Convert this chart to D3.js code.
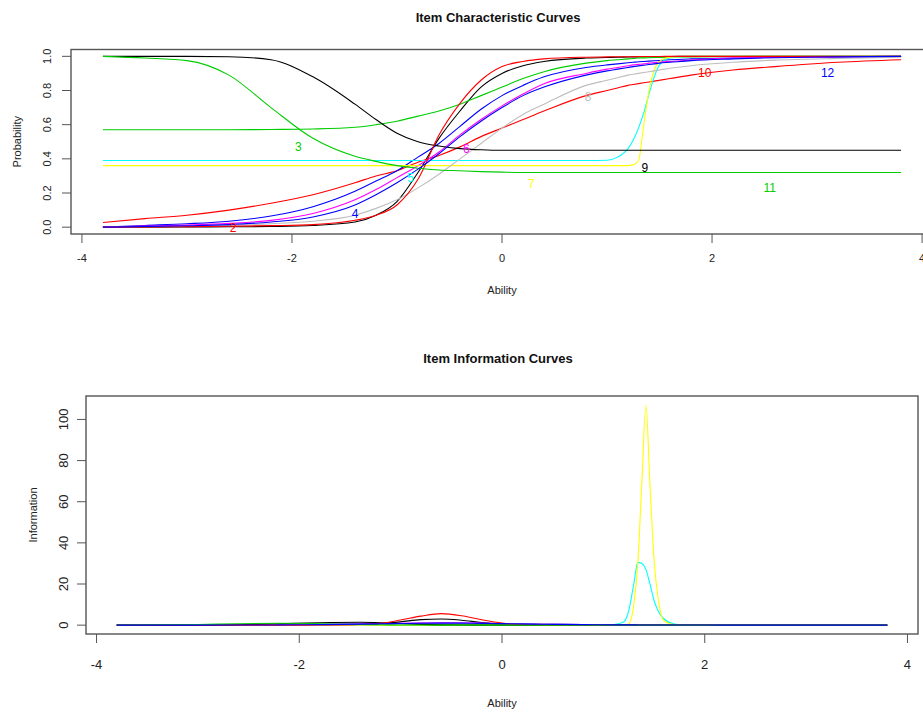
<!DOCTYPE html>
<html>
<head>
<meta charset="utf-8">
<script src="https://cdn.jsdelivr.net/npm/d3@7"></script>
<style>
  html, body { margin: 0; padding: 0; background: #fff; }
  svg { display: block; font-family: "Liberation Sans", Arial, sans-serif; }
</style>
</head>
<body>
<svg id="chart" width="923" height="715"></svg>
<script>
// ---------------- DATA ----------------
const itemNames = ["1","2","3","4","5","6","7","8","9","10","11","12"];
const itemColors = ["#000000","#FF0000","#00CD00","#0000FF","#00FFFF","#FF00FF","#FFFF00","#BEBEBE","#000000","#FF0000","#00CD00","#0000FF"];

const xTicks = [-4, -2, 0, 2, 4];
const probTicks = [0, 0.2, 0.4, 0.6, 0.8, 1.0];
const probTickLabels = ["0.0", "0.2", "0.4", "0.6", "0.8", "1.0"];
const infoTicks = [0, 20, 40, 60, 80, 100];
const infoTickLabels = ["0", "20", "40", "60", "80", "100"];

// ability grid for the item characteristic curves
const iccAbility = [-3.8,-3.4,-3.0,-2.6,-2.2,-1.8,-1.4,-1.2,-1.0,-0.8,-0.6,-0.4,-0.2,0.0,0.2,0.4,0.8,1.0,1.1,1.2,1.25,1.3,1.35,1.4,1.45,1.5,1.6,1.8,2.2,2.6,3.2,3.8];
// probability for each item
const iccProb = [
  /*1*/  [0.0,0.0,0.001,0.002,0.004,0.01,0.03,0.07,0.15,0.32,0.52,0.68,0.82,0.90,0.945,0.97,0.99,0.993,0.995,0.996,0.997,0.997,0.998,0.998,0.998,0.999,0.999,1,1,1,1,1],
  /*2*/  [0.027,0.05,0.07,0.10,0.14,0.19,0.26,0.30,0.33,0.38,0.42,0.47,0.53,0.58,0.63,0.68,0.77,0.80,0.815,0.83,0.835,0.84,0.845,0.85,0.855,0.86,0.87,0.89,0.92,0.94,0.965,0.98],
  /*3*/  [0.57,0.57,0.57,0.57,0.572,0.575,0.585,0.60,0.62,0.65,0.68,0.72,0.77,0.82,0.87,0.91,0.96,0.975,0.98,0.985,0.987,0.99,0.991,0.992,0.993,0.994,0.995,0.997,0.999,1,1,1],
  /*4*/  [0.0,0.01,0.02,0.035,0.065,0.12,0.21,0.27,0.33,0.41,0.49,0.59,0.69,0.77,0.83,0.88,0.935,0.95,0.956,0.962,0.965,0.968,0.97,0.972,0.974,0.976,0.98,0.985,0.99,0.994,0.997,1.0],
  /*5*/  [0.39,0.39,0.39,0.39,0.39,0.39,0.39,0.39,0.39,0.39,0.39,0.39,0.39,0.39,0.39,0.39,0.39,0.392,0.41,0.46,0.51,0.58,0.67,0.78,0.88,0.95,0.99,1,1,1,1,1],
  /*6*/  [0.0,0.006,0.012,0.022,0.04,0.08,0.16,0.22,0.29,0.36,0.44,0.54,0.63,0.71,0.78,0.84,0.90,0.925,0.935,0.945,0.95,0.953,0.956,0.96,0.963,0.966,0.97,0.978,0.99,0.994,0.997,1.0],
  /*7*/  [0.36,0.36,0.36,0.36,0.36,0.36,0.36,0.36,0.36,0.36,0.36,0.36,0.36,0.36,0.36,0.36,0.36,0.36,0.36,0.36,0.365,0.39,0.60,0.80,0.92,0.97,0.995,1,1,1,1,1],
  /*8*/  [0.0,0.002,0.005,0.01,0.02,0.035,0.07,0.11,0.16,0.23,0.31,0.40,0.49,0.58,0.66,0.72,0.83,0.86,0.875,0.89,0.895,0.90,0.905,0.91,0.915,0.92,0.93,0.945,0.965,0.978,0.988,0.995],
  /*9*/  [1.0,1.0,1.0,0.998,0.98,0.88,0.72,0.63,0.55,0.50,0.475,0.46,0.453,0.45,0.45,0.45,0.45,0.45,0.45,0.45,0.45,0.45,0.45,0.45,0.45,0.45,0.45,0.45,0.45,0.45,0.45,0.45],
  /*10*/ [0.0,0.001,0.003,0.005,0.009,0.015,0.04,0.07,0.13,0.28,0.54,0.725,0.86,0.94,0.97,0.985,0.995,0.997,0.998,0.998,0.998,0.999,0.999,0.999,0.999,0.999,1,1,1,1,1,1],
  /*11*/ [1.0,0.99,0.975,0.89,0.70,0.52,0.415,0.385,0.36,0.345,0.335,0.33,0.325,0.322,0.32,0.32,0.32,0.32,0.32,0.32,0.32,0.32,0.32,0.32,0.32,0.32,0.32,0.32,0.32,0.32,0.32,0.32],
  /*12*/ [0.0,0.004,0.008,0.015,0.03,0.06,0.13,0.19,0.26,0.34,0.43,0.53,0.62,0.70,0.77,0.82,0.89,0.915,0.925,0.935,0.94,0.944,0.948,0.952,0.956,0.96,0.965,0.975,0.985,0.992,0.997,1.0]
];

// item labels on the ICC panel (ability, probability) — label "1" falls outside the plot region
const labelItems = ["2","3","4","5","6","7","8","9","10","11","12"];
const labelAbility = [-2.56,-1.94,-1.40,-0.87,-0.34,0.28,0.82,1.36,1.93,2.55,3.10];
const labelProb = [-0.004,0.468,0.078,0.29,0.458,0.253,0.762,0.347,0.902,0.229,0.902];

// ability grid for the item information curves
const infoAbility = [-3.8,-3.0,-2.6,-2.2,-1.8,-1.4,-1.2,-1.0,-0.8,-0.6,-0.4,-0.2,0.0,0.2,0.4,0.8,1.1,1.2,1.25,1.3,1.34,1.38,1.42,1.46,1.5,1.55,1.6,1.7,1.8,2.2,3.0,3.8];
const infoValues = [
  /*1*/  [0,0,0.01,0.03,0.08,0.3,0.7,1.6,2.7,3.0,2.4,1.3,0.6,0.25,0.1,0.02,0,0,0,0,0,0,0,0,0,0,0,0,0,0,0,0],
  /*2*/  [0.08,0.12,0.15,0.18,0.2,0.22,0.23,0.23,0.23,0.23,0.22,0.21,0.2,0.19,0.17,0.14,0.12,0.11,0.11,0.11,0.1,0.1,0.1,0.1,0.1,0.1,0.09,0.09,0.08,0.06,0.03,0.02],
  /*3*/  [0,0,0,0,0.02,0.06,0.1,0.17,0.25,0.33,0.4,0.43,0.42,0.37,0.3,0.16,0.09,0.07,0.06,0.06,0.05,0.05,0.05,0.05,0.04,0.04,0.04,0.03,0.02,0.01,0,0],
  /*4*/  [0.02,0.06,0.1,0.18,0.32,0.55,0.68,0.8,0.9,0.95,0.93,0.85,0.72,0.58,0.45,0.25,0.15,0.13,0.12,0.11,0.1,0.1,0.09,0.09,0.08,0.08,0.07,0.06,0.05,0.03,0.01,0],
  /*5*/  [0,0,0,0,0,0,0,0,0,0,0,0,0,0,0,0,0.3,1.5,7,20,30.5,30,27,20,12,6,3,0.6,0.1,0,0,0],
  /*6*/  [0.01,0.04,0.08,0.15,0.3,0.55,0.72,0.88,1.0,1.1,1.08,0.98,0.82,0.65,0.5,0.28,0.17,0.14,0.13,0.12,0.11,0.11,0.1,0.1,0.09,0.09,0.08,0.07,0.06,0.03,0.01,0],
  /*7*/  [0,0,0,0,0,0,0,0,0,0,0,0,0,0,0,0,0,0,0.5,10,30,70,107,68,32,10,2,0.2,0,0,0,0],
  /*8*/  [0,0.01,0.03,0.06,0.12,0.22,0.3,0.4,0.5,0.6,0.68,0.7,0.68,0.6,0.5,0.32,0.22,0.2,0.19,0.18,0.17,0.17,0.16,0.16,0.15,0.15,0.14,0.12,0.1,0.06,0.02,0.01],
  /*9*/  [0,0.01,0.2,0.7,1.2,1.4,1.2,0.8,0.4,0.15,0.06,0.02,0.01,0,0,0,0,0,0,0,0,0,0,0,0,0,0,0,0,0,0,0],
  /*10*/ [0,0,0,0,0.05,0.3,0.9,2.5,4.4,5.6,4.6,2.6,1.0,0.3,0.1,0.01,0,0,0,0,0,0,0,0,0,0,0,0,0,0,0,0],
  /*11*/ [0.05,0.3,0.7,0.9,0.7,0.35,0.2,0.1,0.05,0.02,0.01,0,0,0,0,0,0,0,0,0,0,0,0,0,0,0,0,0,0,0,0,0],
  /*12*/ [0.01,0.03,0.06,0.12,0.25,0.5,0.66,0.82,0.95,1.0,0.97,0.88,0.75,0.6,0.46,0.26,0.16,0.14,0.13,0.12,0.11,0.11,0.1,0.1,0.09,0.09,0.08,0.07,0.06,0.03,0.01,0]
];

// ---------------- DRAWING ----------------
const svg = d3.select("#chart");
const axisColor = "#555";

function drawPanel(opts) {
  const { x, y, yTicks, yTickLabels, title, titleY, xLabelY, yLabel, yLabelX,
          yTickLabelX, xTickLabelY, tickFont, clipId } = opts;
  const [x0, x1] = x.range();
  const [y0, y1] = y.range(); // y0 bottom, y1 top

  svg.append("defs").append("clipPath").attr("id", clipId)
    .append("rect").attr("x", x0).attr("y", y1).attr("width", x1 - x0).attr("height", y0 - y1);

  // x ticks
  const gx = svg.append("g");
  gx.selectAll("line").data(xTicks).join("line")
    .attr("x1", d => x(d)).attr("x2", d => x(d))
    .attr("y1", y0).attr("y2", y0 + 9)
    .attr("stroke", axisColor).attr("stroke-width", 1);
  gx.selectAll("text").data(xTicks).join("text")
    .attr("x", d => x(d)).attr("y", xTickLabelY)
    .attr("text-anchor", "middle").attr("dominant-baseline", "central")
    .attr("font-size", tickFont).attr("fill", "#222")
    .text(d => d);

  // y ticks
  const gy = svg.append("g");
  gy.selectAll("line").data(yTicks).join("line")
    .attr("x1", x0 - 9).attr("x2", x0)
    .attr("y1", d => y(d)).attr("y2", d => y(d))
    .attr("stroke", axisColor).attr("stroke-width", 1);
  gy.selectAll("text").data(yTicks).join("text")
    .attr("transform", d => `translate(${yTickLabelX},${y(d)}) rotate(-90)`)
    .attr("text-anchor", "middle").attr("dominant-baseline", "central")
    .attr("font-size", tickFont).attr("fill", "#222")
    .text((d, i) => yTickLabels[i]);

  // title & axis labels
  svg.append("text").attr("x", (x0 + x1) / 2 - 4).attr("y", titleY)
    .attr("text-anchor", "middle").attr("dominant-baseline", "central")
    .attr("font-size", 13).attr("font-weight", "bold").attr("fill", "#111")
    .text(title);
  svg.append("text").attr("x", (x0 + x1) / 2).attr("y", xLabelY)
    .attr("text-anchor", "middle").attr("dominant-baseline", "central")
    .attr("font-size", 11).attr("fill", "#222").text("Ability");
  svg.append("text")
    .attr("transform", `translate(${yLabelX},${(y0 + y1) / 2}) rotate(-90)`)
    .attr("text-anchor", "middle").attr("dominant-baseline", "central")
    .attr("font-size", 11).attr("fill", "#222").text(yLabel);

  return svg.append("g").attr("clip-path", `url(#${clipId})`);
}

function drawBox(x, y) {
  const [x0, x1] = x.range();
  const [y0, y1] = y.range();
  svg.append("rect").attr("x", x0).attr("y", y1)
    .attr("width", x1 - x0).attr("height", y0 - y1)
    .attr("fill", "none").attr("stroke", axisColor).attr("stroke-width", 1.4);
}

// ---- Top panel: Item Characteristic Curves ----
const xTop = d3.scaleLinear().domain([-4.104, 4.104]).range([71, 933]);
const yTop = d3.scaleLinear().domain([-0.04, 1.04]).range([234, 49.5]);

const topG = drawPanel({
  x: xTop, y: yTop, yTicks: probTicks, yTickLabels: probTickLabels,
  title: "Item Characteristic Curves", titleY: 17, xLabelY: 290,
  yLabel: "Probability", yLabelX: 17, yTickLabelX: 47, xTickLabelY: 258,
  tickFont: 11, clipId: "clipTop"
});

const lineTop = d3.line()
  .x((d, i) => xTop(iccAbility[i]))
  .y(d => yTop(d))
  .curve(d3.curveMonotoneX);

topG.selectAll("path.icc").data(iccProb).join("path")
  .attr("class", "icc")
  .attr("d", d => lineTop(d))
  .attr("fill", "none")
  .attr("stroke", (d, i) => itemColors[i])
  .attr("stroke-width", 1.1);

topG.selectAll("text.lab").data(labelItems).join("text")
  .attr("class", "lab")
  .attr("x", (d, i) => xTop(labelAbility[i]))
  .attr("y", (d, i) => yTop(labelProb[i]))
  .attr("text-anchor", "middle").attr("dominant-baseline", "central")
  .attr("font-size", 12)
  .attr("fill", d => itemColors[itemNames.indexOf(d)])
  .text(d => d);

drawBox(xTop, yTop);

// ---- Bottom panel: Item Information Curves ----
const xBot = d3.scaleLinear().domain([-4.104, 4.104]).range([86, 918]);
const yBot = d3.scaleLinear().domain([-4.3, 111.4]).range([634, 396]);

const botG = drawPanel({
  x: xBot, y: yBot, yTicks: infoTicks, yTickLabels: infoTickLabels,
  title: "Item Information Curves", titleY: 358, xLabelY: 703,
  yLabel: "Information", yLabelX: 33, yTickLabelX: 63, xTickLabelY: 664,
  tickFont: 13, clipId: "clipBot"
});

const lineBot = d3.line()
  .x((d, i) => xBot(infoAbility[i]))
  .y(d => yBot(d))
  .curve(d3.curveMonotoneX);

botG.selectAll("path.iic").data(infoValues).join("path")
  .attr("class", "iic")
  .attr("d", d => lineBot(d))
  .attr("fill", "none")
  .attr("stroke", (d, i) => itemColors[i])
  .attr("stroke-width", 1.1);

drawBox(xBot, yBot);
</script>
</body>
</html>
